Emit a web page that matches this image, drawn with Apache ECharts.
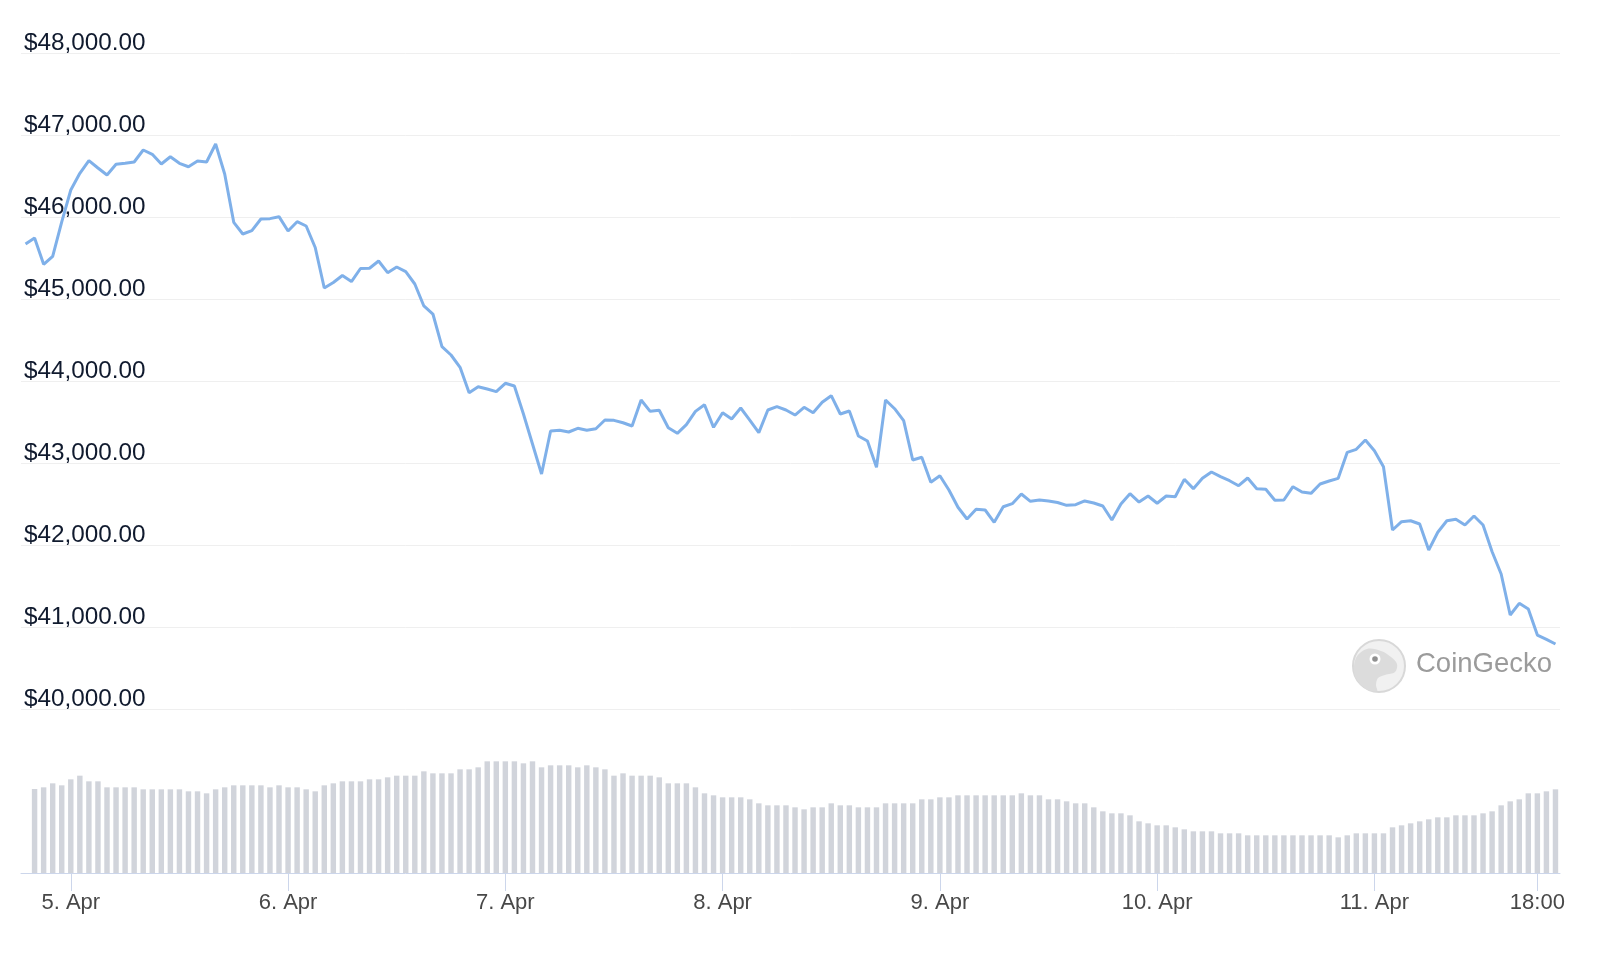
<!DOCTYPE html>
<html>
<head>
<meta charset="utf-8">
<script src="https://cdn.jsdelivr.net/npm/echarts@6/dist/echarts.min.js"></script>
<style>
  html, body { margin: 0; padding: 0; background: #ffffff; }
  #chart { width: 1600px; height: 960px; }
</style>
</head>
<body>
<div id="chart"></div>
<script>
// Hourly BTC price (USD), starting 4 Apr 19:00
const price = [
  45671, 45744, 45423, 45521, 45940, 46329, 46533, 46687, 46598, 46512,
  46643, 46655, 46671, 46817, 46765, 46646, 46735, 46655, 46613, 46683,
  46671, 46890, 46524, 45935, 45793, 45833, 45976, 45980, 46004, 45829,
  45943, 45890, 45628, 45134, 45201, 45287, 45213, 45372, 45375, 45463,
  45321, 45390, 45333, 45183, 44915, 44817, 44418, 44317, 44167, 43857,
  43930, 43902, 43870, 43972, 43939, 43598, 43232, 42866, 43390, 43399,
  43378, 43423, 43400, 43418, 43524, 43520, 43491, 43451, 43768, 43630,
  43643, 43430, 43362, 43467, 43630, 43711, 43435, 43613, 43537, 43671,
  43524, 43370, 43646, 43687, 43646, 43585, 43679, 43613, 43740, 43821,
  43598, 43634, 43329, 43268, 42948, 43768, 43662, 43516, 43037, 43070,
  42765, 42845, 42671, 42460, 42317, 42435, 42427, 42277, 42467, 42504,
  42622, 42533, 42549, 42537, 42518, 42484, 42491, 42537, 42512, 42476,
  42305, 42500, 42626, 42524, 42598, 42509, 42598, 42589, 42801, 42687,
  42813, 42890, 42833, 42784, 42723, 42817, 42687, 42679, 42545, 42549,
  42711, 42646, 42630, 42744, 42780, 42813, 43130, 43167, 43280, 43150,
  42955, 42183, 42284, 42296, 42256, 41939, 42155, 42296, 42313, 42244,
  42354, 42244, 41918, 41646, 41146, 41289, 41220, 40902, 40850, 40793
];

// Hourly volume (billion USD), starting 4 Apr 20:00
const volume = [
  25.2, 25.7, 26.9, 26.3, 28.1, 29.2, 27.5, 27.5, 25.7, 25.7,
  25.7, 25.7, 25.1, 25.1, 25.1, 25.1, 25.1, 24.5, 24.5, 23.9,
  25.1, 25.7, 26.3, 26.3, 26.3, 26.3, 25.7, 26.3, 25.7, 25.7,
  25.1, 24.5, 26.3, 26.9, 27.5, 27.5, 27.5, 28.1, 28.1, 28.7,
  29.2, 29.2, 29.2, 30.5, 29.9, 29.9, 29.9, 31.1, 31.1, 31.7,
  33.5, 33.5, 33.5, 33.5, 32.9, 33.5, 31.7, 32.3,
  32.3, 32.3, 31.7, 32.3, 31.7, 31.1, 29.2, 29.9, 29.2, 29.2, 29.2, 28.7,
  26.9, 26.9, 26.9, 25.7, 23.9, 23.3, 22.7, 22.7, 22.7, 22.1,
  20.9, 20.3, 20.3, 20.3, 19.7, 19.1, 19.7, 19.7, 20.9, 20.3,
  20.3, 19.7, 19.7, 19.7, 20.9, 20.9, 20.9, 20.9, 22.1, 22.1,
  22.7, 22.7, 23.3, 23.3, 23.3, 23.3, 23.3, 23.3, 23.3, 23.9,
  23.3, 23.3, 22.1, 22.1, 21.5, 20.9, 20.9, 19.7,
  18.5, 17.9, 17.9, 17.3, 15.5, 14.9, 14.3, 14.3, 13.7, 13.1, 12.5, 12.5,
  12.5, 11.9, 11.9, 11.9, 11.3, 11.3, 11.3, 11.3, 11.3, 11.3,
  11.3, 11.3, 11.3, 11.3, 10.7, 11.3, 11.9, 11.9, 11.9, 11.9,
  13.7, 14.3, 14.9, 15.5, 16.1, 16.7, 16.7, 17.3, 17.3, 17.3,
  17.9, 18.5, 20.3, 21.5, 22.1, 23.9, 23.9, 24.5, 25.1
];

const startUTC = Date.UTC(2022, 3, 4, 19);
const categories = price.map((_, i) => new Date(startUTC + i * 3600000).toISOString().slice(0, 16));

const tickTimes = [
  '2022-04-05T00:00', '2022-04-06T00:00', '2022-04-07T00:00', '2022-04-08T00:00',
  '2022-04-09T00:00', '2022-04-10T00:00', '2022-04-11T00:00', '2022-04-11T18:00'
];
const tickLabels = ['5. Apr', '6. Apr', '7. Apr', '8. Apr', '9. Apr', '10. Apr', '11. Apr', '18:00'];

const yTicks = { min: 40000, max: 48000, step: 1000 };

const FONT = '"Liberation Sans", "Helvetica Neue", Arial, sans-serif';
const isTick = (idx, v) => tickTimes.indexOf(v) >= 0;

const chart = echarts.init(document.getElementById('chart'), null, { renderer: 'canvas' });

const cx = 1379, cy = 666;
const headPts = [
  [cx - 24, cy + 10], [cx - 23, cy - 8], [cx - 12, cy - 17], [cx + 2, cy - 15],
  [cx + 12, cy - 9], [cx + 18, cy - 2], [cx + 16, cy + 6], [cx + 6, cy + 9],
  [cx - 1, cy + 12], [cx - 3, cy + 19], [cx - 2, cy + 25], [cx - 13, cy + 23]
];

chart.setOption({
  animation: false,
  backgroundColor: '#ffffff',
  grid: [
    { left: 21, right: 40, top: 53, height: 656 },
    { left: 21, right: 40, top: 733, height: 140 }
  ],
  xAxis: [
    { type: 'category', gridIndex: 0, data: categories, boundaryGap: true, show: false },
    {
      type: 'category', gridIndex: 1, data: categories, boundaryGap: true,
      axisLine: { show: true, lineStyle: { color: '#ccd6eb', width: 1 } },
      axisTick: { show: true, alignWithLabel: true, interval: isTick, length: 18, lineStyle: { color: '#ccd6eb', width: 1 } },
      axisLabel: {
        interval: isTick, margin: 19, fontSize: 22, lineHeight: 22, color: '#484848', fontFamily: FONT,
        formatter: v => tickLabels[tickTimes.indexOf(v)] || ''
      },
      splitLine: { show: false }
    }
  ],
  yAxis: [
    {
      type: 'value', gridIndex: 0, min: yTicks.min, max: yTicks.max, interval: yTicks.step,
      axisLine: { show: false }, axisTick: { show: false },
      splitLine: { show: true, lineStyle: { color: '#efefef', width: 1 } },
      axisLabel: {
        inside: true, margin: 3, fontSize: 24.3, lineHeight: 19, color: '#101a2e', fontFamily: FONT,
        verticalAlign: 'bottom',
        formatter: v => '$' + v.toLocaleString('en-US', { minimumFractionDigits: 2, maximumFractionDigits: 2 })
      }
    },
    { type: 'value', gridIndex: 1, min: 0, max: 42, show: false, splitLine: { show: false } }
  ],
  series: [
    {
      type: 'bar', xAxisIndex: 1, yAxisIndex: 1,
      data: [null].concat(volume),
      barWidth: '60%',
      itemStyle: { color: '#d1d4db' },
      silent: true
    },
    {
      type: 'line', xAxisIndex: 0, yAxisIndex: 0,
      data: price,
      showSymbol: false, symbol: 'none',
      lineStyle: { color: '#7fb0e9', width: 3 },
      z: 3
    }
  ],
  graphic: [
    { type: 'circle', shape: { cx: cx, cy: cy, r: 26 }, style: { fill: '#f1f1f1', stroke: '#d8d8d8', lineWidth: 2 }, z: 10 },
    { type: 'polygon', z: 11, shape: { points: headPts, smooth: 0.35 }, style: { fill: '#dcdcdc' } },
    { type: 'circle', z: 12, shape: { cx: cx - 4, cy: cy - 7, r: 5.5 }, style: { fill: '#ffffff' } },
    { type: 'circle', z: 13, shape: { cx: cx - 4, cy: cy - 7, r: 2.8 }, style: { fill: '#909090' } },
    {
      type: 'text', z: 12, left: 1416, top: 650,
      style: { text: 'CoinGecko', fontSize: 27.5, fontFamily: FONT, fill: '#9b9b9b' }
    }
  ]
});
</script>
</body>
</html>
